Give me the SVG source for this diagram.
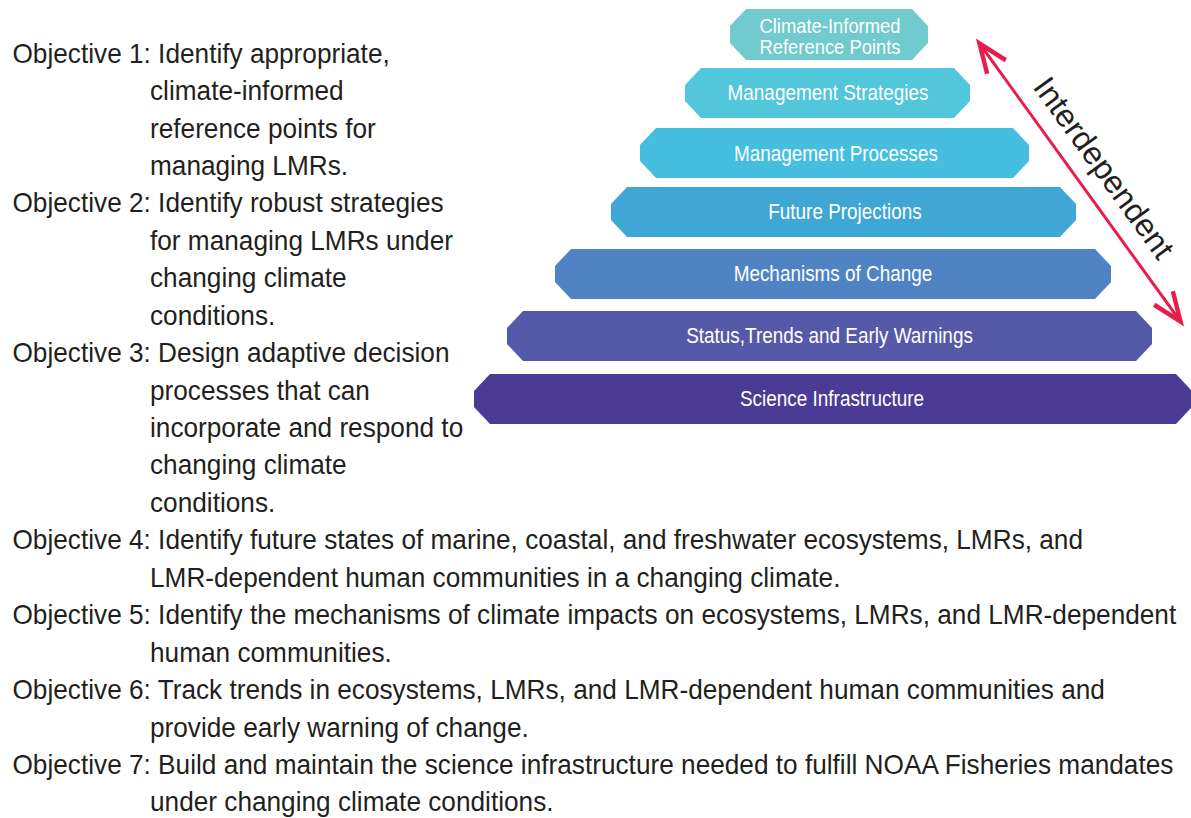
<svg xmlns="http://www.w3.org/2000/svg" width="1191" height="818" viewBox="0 0 1191 818">
<style>
.obj{font-family:"Liberation Sans",Arial,sans-serif;font-size:27.5px;fill:#231f20;}
.lbl{font-family:"Liberation Sans",Arial,sans-serif;font-size:21.5px;fill:#ffffff;text-anchor:middle;}
.lbl2{font-family:"Liberation Sans",Arial,sans-serif;font-size:20px;fill:#ffffff;text-anchor:middle;}
.arr{fill:none;stroke:#e61e4d;}
</style>
<defs>
<marker id="head" markerUnits="userSpaceOnUse" viewBox="-40 -20 50 40" refX="0" refY="0" markerWidth="50" markerHeight="40" orient="auto-start-reverse" overflow="visible">
<path d="M -29 -11.5 L 0 0 L -29 11.5" fill="none" stroke="#e61e4d" stroke-width="4.5" stroke-linejoin="miter" stroke-miterlimit="10"/>
</marker>
</defs>
<rect width="1191" height="818" fill="#ffffff"/>

<g id="objectives" transform="scale(0.953 1)">
<text class="obj" x="13.1" y="62.7">Objective 1: Identify appropriate,</text>
<text class="obj" x="157.4" y="100.1">climate-informed</text>
<text class="obj" x="157.4" y="137.6">reference points for</text>
<text class="obj" x="157.4" y="175.0">managing LMRs.</text>
<text class="obj" x="13.1" y="212.5">Objective 2: Identify robust strategies</text>
<text class="obj" x="157.4" y="249.9">for managing LMRs under</text>
<text class="obj" x="157.4" y="287.3">changing climate</text>
<text class="obj" x="157.4" y="324.8">conditions.</text>
<text class="obj" x="13.1" y="362.2">Objective 3: Design adaptive decision</text>
<text class="obj" x="157.4" y="399.7">processes that can</text>
<text class="obj" x="157.4" y="437.1">incorporate and respond to</text>
<text class="obj" x="157.4" y="474.5">changing climate</text>
<text class="obj" x="157.4" y="512.0">conditions.</text>
<text class="obj" x="13.1" y="549.4">Objective 4: Identify future states of marine, coastal, and freshwater ecosystems, LMRs, and</text>
<text class="obj" x="157.4" y="586.9">LMR-dependent human communities in a changing climate.</text>
<text class="obj" x="13.1" y="624.3">Objective 5: Identify the mechanisms of climate impacts on ecosystems, LMRs, and LMR-dependent</text>
<text class="obj" x="157.4" y="661.7">human communities.</text>
<text class="obj" x="13.1" y="699.2">Objective 6: Track trends in ecosystems, LMRs, and LMR-dependent human communities and</text>
<text class="obj" x="157.4" y="736.6">provide early warning of change.</text>
<text class="obj" x="13.1" y="774.1">Objective 7: Build and maintain the science infrastructure needed to fulfill NOAA Fisheries mandates</text>
<text class="obj" x="157.4" y="811.5">under changing climate conditions.</text>
</g>

<g id="layer-reference-points">
<polygon points="746,9 912,9 928,26 928,43 912,60 746,60 730,43 730,26" fill="#70cace"/>
<text class="lbl2" transform="translate(830 32.5) scale(0.92 1)">Climate-Informed</text>
<text class="lbl2" transform="translate(830 53.5) scale(0.92 1)">Reference Points</text>
</g>
<g id="layer-management-strategies">
<polygon points="701,68 954,68 970,85 970,101 954,118 701,118 685,101 685,85" fill="#52c6da"/>
<text class="lbl" transform="translate(828 100) scale(0.88 1)">Management Strategies</text>
</g>
<g id="layer-management-processes">
<polygon points="656,128 1013,128 1029,145 1029,161 1013,178 656,178 640,161 640,145" fill="#45bedf"/>
<text class="lbl" transform="translate(836 160.5) scale(0.88 1)">Management Processes</text>
</g>
<g id="layer-future-projections">
<polygon points="627,187 1060,187 1076,204 1076,220 1060,237 627,237 611,220 611,204" fill="#40a6d6"/>
<text class="lbl" transform="translate(845 219) scale(0.88 1)">Future Projections</text>
</g>
<g id="layer-mechanisms">
<polygon points="571,249 1095,249 1111,266 1111,282 1095,299 571,299 555,282 555,266" fill="#5083c3"/>
<text class="lbl" transform="translate(833 280.5) scale(0.88 1)">Mechanisms of Change</text>
</g>
<g id="layer-status">
<polygon points="523,311 1136,311 1152,328 1152,344 1136,361 523,361 507,344 507,328" fill="#545aa8"/>
<text class="lbl" transform="translate(829.5 342.5) scale(0.88 1)">Status,Trends and Early Warnings</text>
</g>
<g id="layer-science-infrastructure">
<polygon points="490,374 1176,374 1192,391 1192,407 1176,424 490,424 474,407 474,391" fill="#4b3b95"/>
<text class="lbl" transform="translate(832 405.5) scale(0.88 1)">Science Infrastructure</text>
</g>

<g id="connectors">
<line class="arr" x1="979.5" y1="43.5" x2="1180.5" y2="321.5" stroke-width="3" marker-start="url(#head)" marker-end="url(#head)"/>
</g>
<g id="label-interdependent">
<text transform="translate(1032 87) rotate(54.1)" font-family="'Liberation Sans',Arial,sans-serif" font-size="32" fill="#231f20">Interdependent</text>
</g>
</svg>
